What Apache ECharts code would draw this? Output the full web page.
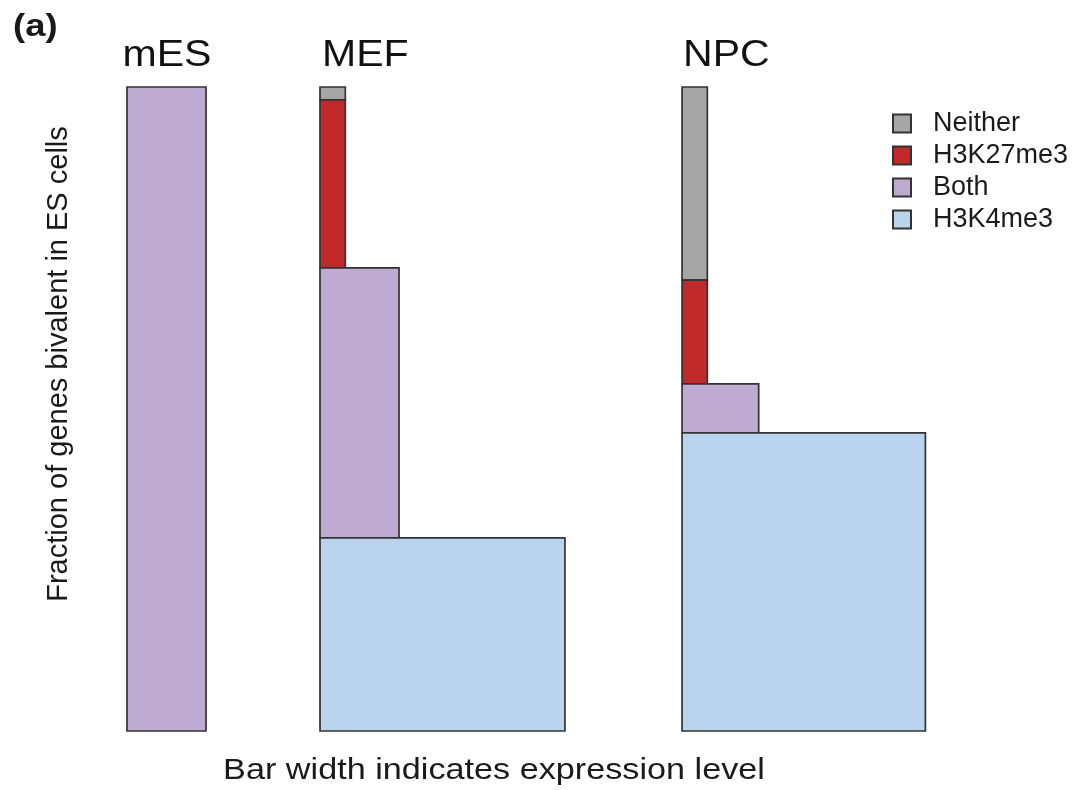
<!DOCTYPE html>
<html><head><meta charset="utf-8">
<script src="https://cdn.jsdelivr.net/npm/echarts@6/dist/echarts.min.js"></script>
<style>html,body{margin:0;padding:0;background:#fff}#c{width:1086px;height:790px}</style>
</head><body><div id="c"></div>
<script>
// Data
var groups = ['mES', 'MEF', 'NPC'];
var categories = ['Neither', 'H3K27me3', 'Both', 'H3K4me3'];
// fraction of genes (bar heights) per group
var neither  = [0.000, 0.020, 0.300];
var h3k27me3 = [0.000, 0.261, 0.161];
var both     = [1.000, 0.419, 0.076];
var h3k4me3  = [0.000, 0.300, 0.463];
// relative expression level (bar widths) per group
var neitherW  = [0.00, 0.32, 0.32];
var h3k27me3W = [0.00, 0.32, 0.32];
var bothW     = [1.00, 1.00, 0.97];
var h3k4me3W  = [0.00, 3.10, 3.08];

// layout: left edge of each group on the x scale
var groupStart = [0, 2.443, 7.025];
var colors = {Neither:'#a6a6a6', H3K27me3:'#c1292b', Both:'#bfaad2', H3K4me3:'#bad4ee'};

var vals = {Neither:neither, H3K27me3:h3k27me3, Both:both, H3K4me3:h3k4me3};
var wids = {Neither:neitherW, H3K27me3:h3k27me3W, Both:bothW, H3K4me3:h3k4me3W};
var stackOrder = ['H3K4me3', 'Both', 'H3K27me3', 'Neither'];
var seriesData = {};
groups.forEach(function(g, gi){
  var base = 0;
  stackOrder.forEach(function(cat){
    seriesData[cat] = seriesData[cat] || [];
    var v = vals[cat][gi];
    if (v > 0) seriesData[cat].push([groupStart[gi], groupStart[gi] + wids[cat][gi], base, base + v]);
    base += v;
  });
});

function renderItem(params, api){
  var p0 = api.coord([api.value(0), api.value(3)]);
  var p1 = api.coord([api.value(1), api.value(2)]);
  return {
    type:'rect',
    shape:{x:p0[0], y:p0[1], width:p1[0]-p0[0], height:p1[1]-p0[1]},
    style:{fill: api.visual('color'), stroke:'#333333', lineWidth:1.7}
  };
}

var series = categories.map(function(cat){
  return {
    type:'custom', name:cat, renderItem:renderItem,
    itemStyle:{color:colors[cat], borderColor:'#333333', borderWidth:1.5},
    encode:{x:[0,1], y:[2,3]},
    data: seriesData[cat] || [],
    z: 2
  };
});

var chart = echarts.init(document.getElementById('c'), null, {renderer:'canvas'});
var font = 'Liberation Sans, Arial, Helvetica, sans-serif';
var sx = 1.14;
chart.setOption({
  animation:false,
  backgroundColor:'#fff',
  grid:{left:127, top:87, width:798, height:644},
  xAxis:{type:'value', min:0, max:10.1, show:false},
  yAxis:{type:'value', min:0, max:1, show:false},
  legend:{
    orient:'vertical', left:892, top:110, padding:0, itemWidth:18, itemHeight:18, itemGap:5,
    icon:'rect',
    data: categories,
    textStyle:{fontFamily:font, fontSize:27, color:'#1a1a1a', padding:[0,0,0,17]}
  },
  graphic:[
    {type:'text', x:13, y:27, scaleX:sx, style:{text:'(a)', font:'bold 32px '+font, fill:'#1a1a1a', align:'left', verticalAlign:'middle'}},
    {type:'text', x:167, y:56, scaleX:sx, style:{text:groups[0], font:'36px '+font, fill:'#111', align:'center', verticalAlign:'middle'}},
    {type:'text', x:322, y:56, scaleX:sx, style:{text:groups[1], font:'36px '+font, fill:'#111', align:'left', verticalAlign:'middle'}},
    {type:'text', x:683, y:56, scaleX:sx, style:{text:groups[2], font:'36px '+font, fill:'#111', align:'left', verticalAlign:'middle'}},
    {type:'text', x:59, y:364, rotation:Math.PI/2, style:{text:'Fraction of genes bivalent in ES cells', font:'29px '+font, fill:'#1a1a1a', align:'center', verticalAlign:'middle'}},
    {type:'text', x:494, y:771, scaleX:sx, style:{text:'Bar width indicates expression level', font:'30px '+font, fill:'#1a1a1a', align:'center', verticalAlign:'middle'}}
  ],
  series: series
});
</script></body></html>
